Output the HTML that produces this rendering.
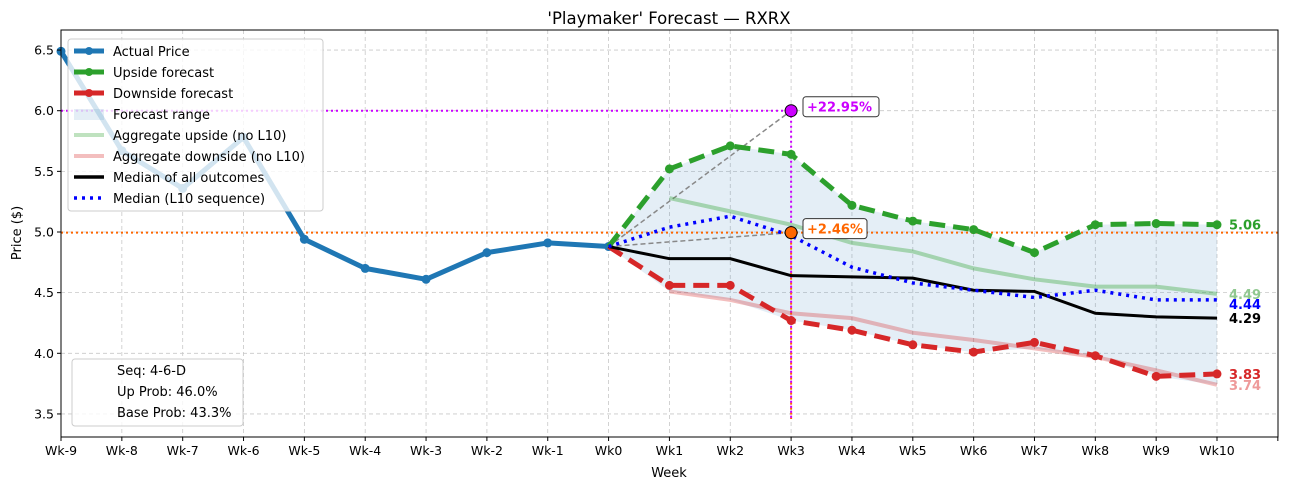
<!DOCTYPE html>
<html><head><meta charset="utf-8"><style>
body{margin:0;background:#fff;font-family:"DejaVu Sans","Liberation Sans",sans-serif;}
svg text{font-family:"DejaVu Sans","Liberation Sans",sans-serif;}
</style></head><body>
<svg id="chart" width="1290" height="490" xmlns="http://www.w3.org/2000/svg"></svg>
<script>
const xLabels=["Wk-9","Wk-8","Wk-7","Wk-6","Wk-5","Wk-4","Wk-3","Wk-2","Wk-1","Wk0","Wk1","Wk2","Wk3","Wk4","Wk5","Wk6","Wk7","Wk8","Wk9","Wk10"];
const yTicks=[3.5,4.0,4.5,5.0,5.5,6.0,6.5];
const actual=[6.49,5.67,5.36,5.78,4.94,4.70,4.61,4.83,4.91,4.88];
const upside=[4.88,5.52,5.71,5.64,5.22,5.09,5.02,4.83,5.06,5.07,5.06];
const downside=[4.88,4.56,4.56,4.27,4.19,4.07,4.01,4.09,3.98,3.81,3.83];
const aggUp=[5.28,5.17,5.06,4.91,4.84,4.70,4.61,4.55,4.55,4.49];
const aggDown=[4.51,4.44,4.33,4.29,4.17,4.11,4.04,3.97,3.86,3.74];
const medAll=[4.88,4.78,4.78,4.64,4.63,4.62,4.52,4.51,4.33,4.30,4.29];
const medL10=[4.88,5.04,5.13,4.97,4.71,4.58,4.52,4.46,4.52,4.44,4.44];
const upTarget=6.0, baseTarget=4.995, targetIdx=12;

const L=61,R=1278,T=30,B=437;
const X=i=>L+i*(1217-61)/19;
const Y=v=>232-(v-5.0)*121.3;
const svg=document.getElementById('chart');
const NS="http://www.w3.org/2000/svg";
function el(tag,attrs,parent){const e=document.createElementNS(NS,tag);for(const k in attrs)e.setAttribute(k,attrs[k]);(parent||svg).appendChild(e);return e;}
function pts(arr,off){return arr.map((v,i)=>X(i+off)+","+Y(v)).join(" ");}

// grid
xLabels.forEach((l,i)=>{const g=el('line',{x1:X(i),x2:X(i),y1:T,y2:B,stroke:'#c8c8c8','stroke-dasharray':'4,3','stroke-width':0.8});
});
yTicks.forEach(v=>{const g=el('line',{x1:L,x2:R,y1:Y(v),y2:Y(v),stroke:'#c8c8c8','stroke-dasharray':'4,3','stroke-width':0.8});
});

// forecast range fill
const topB=upside.map((v,i)=>i==0?v:Math.max(v,aggUp[i-1]));
const botB=downside.map((v,i)=>i==0?v:Math.min(v,aggDown[i-1]));
let fp=topB.map((v,i)=>X(i+9)+","+Y(v)).concat(botB.map((v,i)=>X(i+9)+","+Y(v)).reverse()).join(" ");
const fill=el('polygon',{points:fp,fill:'#1f77b4','fill-opacity':0.12});


// target lines
let t=el('line',{x1:L,x2:X(targetIdx),y1:Y(upTarget),y2:Y(upTarget),stroke:'#cc00ff','stroke-width':2,'stroke-dasharray':'2,3'});

t=el('line',{x1:L,x2:R,y1:Y(baseTarget),y2:Y(baseTarget),stroke:'#ff6600','stroke-width':2,'stroke-dasharray':'2,3'});

t=el('line',{x1:X(targetIdx),x2:X(targetIdx),y1:Y(baseTarget),y2:B-18,stroke:'#ff6600','stroke-width':2,'stroke-dasharray':'2,3'});

t=el('line',{x1:X(targetIdx),x2:X(targetIdx),y1:Y(upTarget),y2:B-18,stroke:'#cc00ff','stroke-width':2,'stroke-dasharray':'2,3'});

[upTarget,baseTarget].forEach(v=>{const g=el('line',{x1:X(9),y1:Y(actual[9]),x2:X(targetIdx),y2:Y(v),stroke:'#888','stroke-width':1.5,'stroke-dasharray':'5,3'});
});

// actual
let p=el('polyline',{points:pts(actual,0),fill:'none',stroke:'#1f77b4','stroke-width':5,'stroke-linejoin':'round'});

actual.forEach((v,i)=>{const c=el('circle',{cx:X(i),cy:Y(v),r:4.5,fill:'#1f77b4'});});

// aggregates
p=el('polyline',{points:pts(aggUp,10),fill:'none',stroke:'#2ca02c','stroke-opacity':0.35,'stroke-width':4});

p=el('polyline',{points:pts(aggDown,10),fill:'none',stroke:'#d62728','stroke-opacity':0.3,'stroke-width':4});


// upside/downside
p=el('polyline',{points:pts(upside,9),fill:'none',stroke:'#2ca02c','stroke-width':5,'stroke-dasharray':'16,8'});

upside.forEach((v,i)=>{if(!i)return;const c=el('circle',{cx:X(i+9),cy:Y(v),r:4.5,fill:'#2ca02c'});});
p=el('polyline',{points:pts(downside,9),fill:'none',stroke:'#d62728','stroke-width':5,'stroke-dasharray':'16,8'});

downside.forEach((v,i)=>{if(!i)return;const c=el('circle',{cx:X(i+9),cy:Y(v),r:4.5,fill:'#d62728'});});

// medians
p=el('polyline',{points:pts(medAll,9),fill:'none',stroke:'#000','stroke-width':3});

p=el('polyline',{points:pts(medL10,9),fill:'none',stroke:'#0000ff','stroke-width':3.5,'stroke-dasharray':'3,5'});


// target markers
let c=el('circle',{cx:X(targetIdx),cy:Y(upTarget),r:6,fill:'#cc00ff',stroke:'#000','stroke-width':1});

c=el('circle',{cx:X(targetIdx),cy:Y(baseTarget),r:6,fill:'#ff6600',stroke:'#000','stroke-width':1});

function badge(x,y,w,txt,col,name){const g=el('g',{});
el('rect',{x:x,y:y-10,width:w,height:20,rx:3,fill:'#fff',stroke:'#333','stroke-width':1},g);
const tx=el('text',{x:x+4,y:y+5,fill:col,'font-size':13,'font-weight':'bold'},g);tx.textContent=txt;}
badge(803,Y(upTarget)-4,76,"+22.95%","#cc00ff","upside-pct-label");
badge(803,Y(baseTarget)-4,64,"+2.46%","#ff6600","base-pct-label");

// end labels
[[5.06,'#2ca02c',Y(5.06)],[4.49,'#90c890',Y(4.49)],[4.44,'#0000ff',Y(4.44)+4],[4.29,'#000',Y(4.29)],[3.83,'#d62728',Y(3.83)],[3.74,'#ee9a9a',Y(3.74)]].forEach(a=>{
const tx=el('text',{x:1229,y:a[2]+5,fill:a[1],'font-size':13,'font-weight':'bold'});tx.textContent=a[0].toFixed(2);
});

// axes frame
const fr=el('rect',{x:L,y:T,width:R-L,height:B-T,fill:'none',stroke:'#000','stroke-width':1});

xLabels.concat([""]).forEach((l,i)=>{el('line',{x1:X(i),x2:X(i),y1:B,y2:B+4,stroke:'#000'});
if(l){const tx=el('text',{x:X(i),y:B+18,'text-anchor':'middle','font-size':12.5});tx.textContent=l;}});
yTicks.forEach(v=>{el('line',{x1:L-4,x2:L,y1:Y(v),y2:Y(v),stroke:'#000'});
const tx=el('text',{x:L-7,y:Y(v)+4.5,'text-anchor':'end','font-size':12.5});tx.textContent=v.toFixed(1);});
let tx=el('text',{x:669,y:477,'text-anchor':'middle','font-size':13});tx.textContent="Week";
tx=el('text',{x:21,y:233,'text-anchor':'middle','font-size':13,transform:'rotate(-90 21 233)'});tx.textContent="Price ($)";
tx=el('text',{x:669,y:24,'text-anchor':'middle','font-size':16.5});tx.textContent="'Playmaker' Forecast — RXRX";

// legend
const lg=el('g',{});
el('rect',{x:68,y:39,width:255,height:172,rx:3,fill:'#fff','fill-opacity':0.8,stroke:'#ccc'},lg);
const items=[["Actual Price","#1f77b4",5,null,1,'line'],["Upside forecast","#2ca02c",5,null,1,'line'],["Downside forecast","#d62728",5,null,1,'line'],["Forecast range","#1f77b4",0,null,0.12,'rect'],["Aggregate upside (no L10)","#2ca02c",4,null,0.3,'line'],["Aggregate downside (no L10)","#d62728",4,null,0.3,'line'],["Median of all outcomes","#000",3.5,null,1,'line'],["Median (L10 sequence)","#0000ff",3.5,'3,5',1,'line']];
items.forEach((it,k)=>{const y=51+k*21;const g=el('g',{},lg);
if(it[5]=='rect')el('rect',{x:74,y:y-5,width:30,height:11,fill:it[1],'fill-opacity':0.12},g);
else el('line',{x1:74,x2:104,y1:y,y2:y,stroke:it[1],'stroke-width':it[2],'stroke-opacity':it[4],'stroke-dasharray':it[3]||'none'},g);
if(k<3)el('circle',{cx:89,cy:y,r:4,fill:it[1]},g);
const t2=el('text',{x:113,y:y+5,'font-size':13},g);t2.textContent=it[0];});

// info box
const ib=el('g',{});
el('rect',{x:72,y:359,width:171,height:67,rx:3,fill:'#fff','fill-opacity':0.8,stroke:'#ccc'},ib);
["Seq: 4-6-D","Up Prob: 46.0%","Base Prob: 43.3%"].forEach((s,k)=>{const t3=el('text',{x:117,y:375+k*21,'font-size':13},ib);t3.textContent=s;});
</script>
</body></html>
